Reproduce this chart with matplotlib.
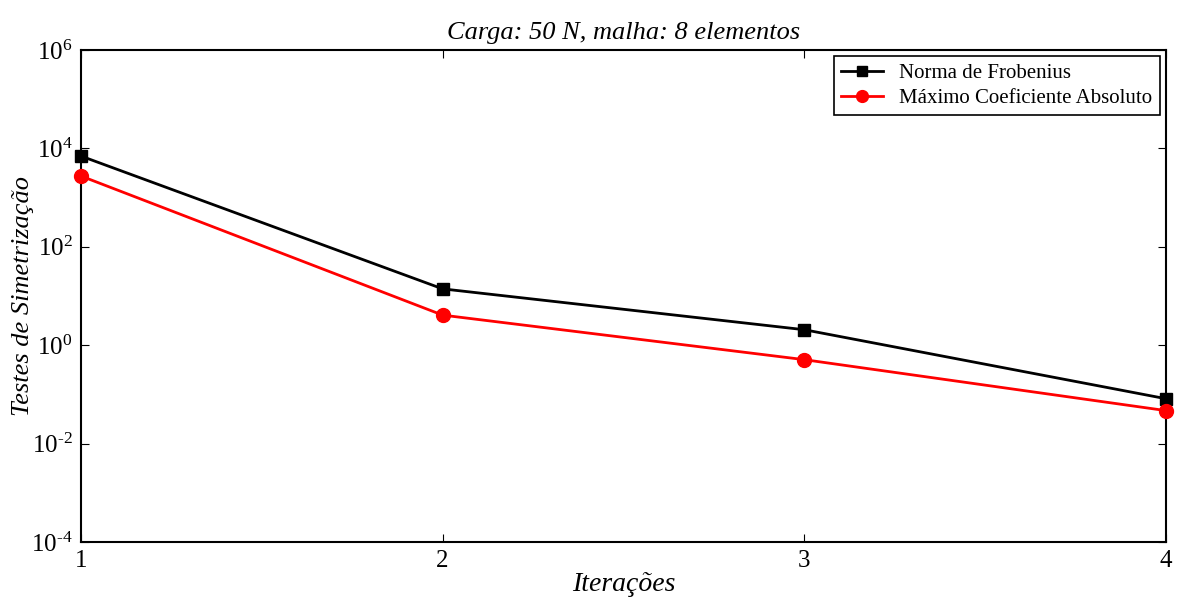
import matplotlib
matplotlib.use("Agg")
import matplotlib.pyplot as plt
from matplotlib.ticker import FuncFormatter, NullLocator
import numpy as np

# Data
iteracoes = [1, 2, 3, 4]
frobenius = [7000, 14, 2.07, 0.082]
max_coef = [2750, 4.1, 0.51, 0.047]
y_ticks = [1e-4, 1e-2, 1e0, 1e2, 1e4, 1e6]

plt.rcParams['font.family'] = ['Liberation Serif', 'DejaVu Serif']
plt.rcParams['mathtext.fontset'] = 'custom'
plt.rcParams['mathtext.rm'] = 'Liberation Serif'
plt.rcParams['mathtext.it'] = 'Liberation Serif:italic'


def fmt_pow(v, pos):
    e = int(round(np.log10(v)))
    if e < 0:
        return r'$10^{\text{-}%d}$' % (-e)
    return r'$10^{%d}$' % e


fig = plt.figure(figsize=(11.8, 5.99), dpi=100)
ax = fig.add_axes([0.0686, 0.095, 0.9195, 0.8215])

ax.semilogy(iteracoes, frobenius, '-s', color='black', lw=2, ms=8,
            mfc='black', label='Norma de Frobenius', clip_on=False, zorder=3)
ax.semilogy(iteracoes, max_coef, '-o', color='red', lw=2, ms=10,
            mfc='red', label='Máximo Coeficiente Absoluto', clip_on=False, zorder=3)

ax.set_xlim(1, 4)
ax.set_ylim(1e-4, 1e6)
ax.set_xticks(iteracoes)
ax.set_yticks(y_ticks)
ax.yaxis.set_major_formatter(FuncFormatter(fmt_pow))
ax.yaxis.set_minor_locator(NullLocator())
ax.tick_params(direction='in', length=6, width=0.8, labelsize=18, top=True, right=True, pad=6)
for s in ax.spines.values():
    s.set_linewidth(1.5)

ax.set_title('Carga: 50 N, malha: 8 elementos', fontsize=19, style='italic', pad=8)
ax.set_xlabel('Iterações', fontsize=20, style='italic', labelpad=0)
ax.set_ylabel('Testes de Simetrização', fontsize=19, style='italic', labelpad=-2)

leg = ax.legend(loc='upper right', fontsize=15, fancybox=False, framealpha=1,
                edgecolor='black', borderaxespad=0.3, handlelength=2.0,
                borderpad=0.35, labelspacing=0.25, markerscale=0.85)
leg.get_frame().set_linewidth(1.2)

fig.savefig('out.png', dpi=100)
